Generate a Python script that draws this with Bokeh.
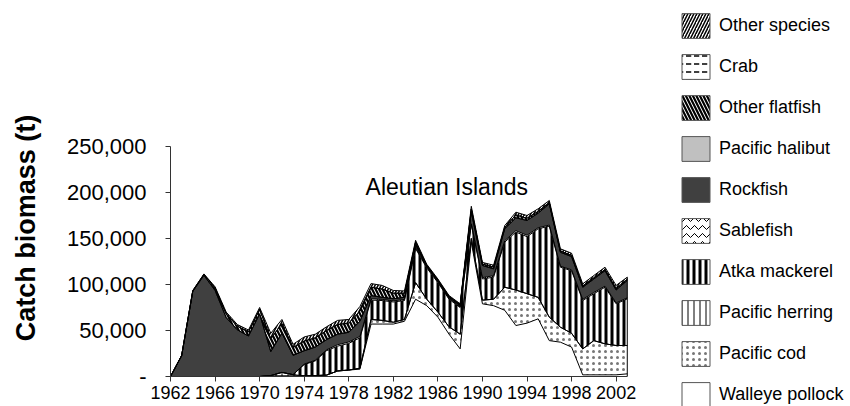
import numpy as np
from math import pi
from bokeh.plotting import figure
from bokeh.layouts import row
from bokeh.models import (Range1d, FixedTicker, NumeralTickFormatter, Label,
                          Legend, LegendItem, ColumnDataSource)
from bokeh.embed import file_html
from bokeh.resources import INLINE

# ---------------- data (tonnes) ----------------
years = list(range(1962, 2004))

walleye_pollock = [0, 0, 0, 0, 0, 0, 0, 0, 0, 500,
                   500, 500, 700, 1000, 1500, 6000, 7000, 8000, 57000, 57000,
                   57000, 60000, 84000, 77000, 64500, 46000, 30000, 146000, 79000, 77000,
                   72000, 55400, 58000, 62700, 39000, 37300, 32000, 1800, 1800, 1800,
                   1800, 2900]
pacific_cod = [0, 0, 0, 0, 0, 0, 0, 0, 0, 0,
               0, 0, 0, 0, 0, 0, 0, 1000, 5000, 4000,
               2000, 2000, 18000, 7000, 5500, 8000, 16000, 4000, 4000, 7000,
               25000, 38600, 32000, 23300, 25500, 16300, 15000, 28200, 37200, 33700,
               31900, 30800]
pacific_herring = [0, 0, 0, 0, 0, 0, 0, 0, 0, 500,
                   4000, 1500, 0, 0, 0, 0, 0, 0, 0, 0,
                   0, 0, 0, 0, 0, 0, 0, 0, 0, 0,
                   0, 0, 0, 0, 0, 0, 0, 0, 0, 0,
                   0, 0]
atka_mackerel = [0, 0, 0, 0, 0, 0, 0, 0, 0, 0,
                 0, 0, 12300, 16000, 26500, 27000, 29000, 33000, 21000, 21600,
                 22000, 20600, 37000, 34000, 32000, 30000, 29000, 15000, 23000, 24000,
                 49000, 63000, 62000, 74500, 98900, 65200, 68000, 52600, 51000, 61500,
                 45300, 50700]
sablefish = [0, 0, 0, 0, 0, 0, 0, 0, 0, 0,
             0, 0, 500, 700, 1000, 1500, 1500, 1500, 1500, 1200,
             1200, 1200, 1300, 1000, 800, 800, 700, 1000, 1500, 1500,
             1500, 1500, 1500, 1200, 1200, 1100, 1000, 1200, 1300, 1200,
             1000, 1100]
rockfish = [0, 22500, 92500, 110000, 93500, 64000, 50700, 44000, 68000, 26000,
            42500, 21000, 14500, 14300, 11000, 11500, 10500, 16500, 3500, 2200,
            2300, 2200, 2700, 1000, 1200, 1200, 1300, 13000, 13200, 7500,
            13000, 14000, 16100, 15800, 23100, 15100, 14400, 13200, 14700, 16800,
            14000, 18900]
pacific_halibut = [0] * 42
other_flatfish = [0, 300, 600, 1000, 2800, 4200, 4000, 4500, 5000, 14000,
                  10500, 8500, 10500, 10000, 10000, 10500, 10000, 11000, 9000, 9000,
                  6000, 4500, 3000, 1000, 1000, 1000, 1000, 3000, 1500, 1800,
                  1500, 3100, 2400, 2000, 1300, 1400, 1200, 1300, 1300, 1300,
                  1500, 1200]
crab = [0] * 42
other_species = [0, 200, 400, 500, 1200, 1800, 1800, 2000, 2000, 6000,
                 4500, 3500, 4500, 4000, 4000, 4500, 4000, 5000, 4000, 4000,
                 3000, 2500, 2000, 1000, 1000, 1000, 1000, 3000, 1800, 2200,
                 2000, 3000, 3000, 2800, 2300, 2400, 2400, 2400, 2500, 2500,
                 3500, 2400]

# bottom -> top stacking order
series = [
    ("Walleye pollock", walleye_pollock),
    ("Pacific cod", pacific_cod),
    ("Pacific herring", pacific_herring),
    ("Atka mackerel", atka_mackerel),
    ("Sablefish", sablefish),
    ("Rockfish", rockfish),
    ("Pacific halibut", pacific_halibut),
    ("Other flatfish", other_flatfish),
    ("Crab", crab),
    ("Other species", other_species),
]

y_ticks = [0, 50000, 100000, 150000, 200000, 250000]
x_ticks = list(range(1962, 2003, 4))
chart_title = "Aleutian Islands"
y_title = "Catch biomass (t)"

# ---------------- styles ----------------
styles = {
    "Walleye pollock": dict(fill_color="white"),
    "Pacific cod": dict(fill_color="white", hatch_pattern=".", hatch_color="#777777",
                        hatch_scale=6, hatch_weight=1),
    "Pacific herring": dict(fill_color="white", hatch_pattern="|", hatch_color="black",
                            hatch_scale=6, hatch_weight=1),
    "Atka mackerel": dict(fill_color="white", hatch_pattern="|", hatch_color="black",
                          hatch_scale=6, hatch_weight=3),
    "Sablefish": dict(fill_color="white", hatch_pattern="v", hatch_color="black",
                      hatch_scale=8, hatch_weight=1),
    "Rockfish": dict(fill_color="#404040"),
    "Pacific halibut": dict(fill_color="#c0c0c0"),
    "Other flatfish": dict(fill_color="white", hatch_pattern="\\", hatch_color="black",
                           hatch_scale=7, hatch_weight=2.2),
    "Crab": dict(fill_color="white", hatch_pattern='"', hatch_color="black",
                 hatch_scale=8, hatch_weight=1.5),
    "Other species": dict(fill_color="white", hatch_pattern="/", hatch_color="black",
                          hatch_scale=6, hatch_weight=1.5),
}

FONT = "Liberation Sans"

# ---------------- y-axis title panel ----------------
tf = figure(width=50, height=406, x_range=Range1d(0, 1), y_range=Range1d(0, 1),
            output_backend="svg", toolbar_location=None,
            x_axis_type=None, y_axis_type=None, frame_align=False,
            min_border_left=0, min_border_right=0, min_border_top=0,
            min_border_bottom=0)
tf.outline_line_color = None
tf.grid.visible = False
tf.add_layout(Label(x=25.5, y=178.5, x_units="screen", y_units="screen",
                    text=y_title, angle=pi / 2, text_align="center",
                    text_baseline="middle", text_font=FONT,
                    text_font_size="27px", text_font_style="bold",
                    text_color="black"))

# ---------------- main chart ----------------
p = figure(width=620, height=406,
           x_range=Range1d(1962, 2006.88), y_range=Range1d(0, 408700),
           output_backend="svg", toolbar_location=None, frame_align=False,
           min_border_left=120, min_border_right=0, min_border_top=0,
           min_border_bottom=30)
p.outline_line_color = None
p.grid.visible = False
p.background_fill_color = "white"

data = {"year": years}
cum = np.zeros(len(years))
bounds = []
for i, (name, vals) in enumerate(series):
    lo = cum.copy()
    cum = cum + np.array(vals, dtype=float)
    data[f"lo{i}"] = lo
    data[f"hi{i}"] = cum.copy()
    bounds.append(f"hi{i}")
src = ColumnDataSource(data)

for i, (name, vals) in enumerate(series):
    p.varea(x="year", y1=f"lo{i}", y2=f"hi{i}", source=src, **styles[name])
for col in bounds:
    p.line(x="year", y=col, source=src, line_color="black", line_width=1)
p.segment(x0=[years[-1]], y0=[0], x1=[years[-1]], y1=[cum[-1]],
          line_color="black", line_width=1)

xa = p.xaxis[0]
xa.ticker = FixedTicker(ticks=x_ticks)
xa.bounds = (1962, 2003)
xa.minor_tick_line_color = None
xa.major_tick_out = 5
xa.major_tick_in = 0
xa.major_label_standoff = 4
xa.major_label_text_font = FONT
xa.major_label_text_font_size = "18px"
xa.major_label_text_color = "black"
xa.axis_line_color = "#333333"
xa.major_tick_line_color = "#333333"

ya = p.yaxis[0]
ya.ticker = FixedTicker(ticks=y_ticks)
ya.bounds = (0, 250000)
ya.formatter = NumeralTickFormatter(format="0,0")
ya.major_label_overrides = {0: "-"}
ya.minor_tick_line_color = None
ya.major_tick_out = 5
ya.major_tick_in = 0
ya.major_label_standoff = 19
ya.major_label_text_font = FONT
ya.major_label_text_font_size = "22px"
ya.major_label_text_color = "black"
ya.axis_line_color = "#333333"
ya.major_tick_line_color = "#333333"

p.add_layout(Label(x=1986.8, y=205800, text=chart_title, text_align="center",
                   text_baseline="alphabetic", text_font=FONT,
                   text_font_size="23px", text_color="black"))

# ---------------- legend panel ----------------
lg = figure(width=180, height=406, x_range=Range1d(0, 1), y_range=Range1d(0, 1),
            output_backend="svg", toolbar_location=None,
            x_axis_type=None, y_axis_type=None, frame_align=False,
            min_border_left=0, min_border_right=0, min_border_top=0,
            min_border_bottom=0)
lg.outline_line_color = None
lg.grid.visible = False

items = []
for name, vals in reversed(series):
    r = lg.quad(left=[np.nan], right=[np.nan], bottom=[np.nan], top=[np.nan],
                line_color="#555555", line_width=1, **styles[name])
    items.append(LegendItem(label=name, renderers=[r]))
legend = Legend(items=items, location=(8, -4), glyph_width=35, glyph_height=31,
                label_height=31, spacing=10, padding=0, margin=0, label_standoff=6,
                label_text_font_size="18px", label_text_font=FONT,
                label_text_color="black",
                border_line_alpha=0, background_fill_alpha=0)
lg.add_layout(legend)

layout = row(tf, p, lg, spacing=0)
open("out.html", "w").write(file_html(layout, INLINE))
